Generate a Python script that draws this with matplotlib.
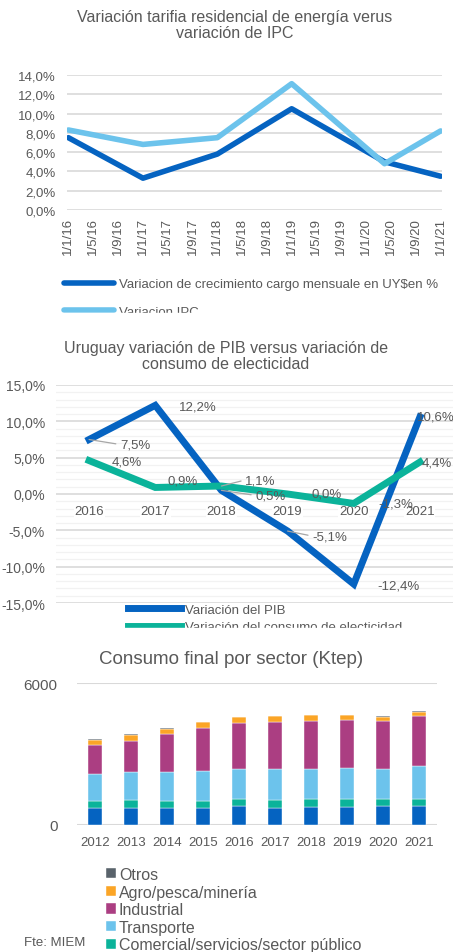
import datetime as dt
import numpy as np
import matplotlib
matplotlib.use("Agg")
import matplotlib.pyplot as plt
import matplotlib.dates as mdates
from matplotlib.ticker import FuncFormatter, MultipleLocator
from matplotlib.patches import Rectangle

plt.rcParams['font.family'] = ['Liberation Sans', 'DejaVu Sans']

# ---- chart 1 data
fechas = [dt.date(2016, 1, 1), dt.date(2017, 1, 1), dt.date(2018, 1, 1),
          dt.date(2019, 1, 1), dt.date(2020, 4, 1), dt.date(2021, 1, 1)]
cargo = [7.5, 3.3, 5.8, 10.5, 5.0, 3.5]
ipc = [8.3, 6.8, 7.5, 13.1, 4.8, 8.2]

# ---- chart 2 data
anios2 = ['2016', '2017', '2018', '2019', '2020', '2021']
pib = [7.5, 12.2, 0.5, -5.1, -12.4, 10.6]
elec = [4.6, 0.9, 1.1, 0.0, -1.3, 4.4]

# ---- chart 3 data
anios3 = ['2012', '2013', '2014', '2015', '2016', '2017', '2018', '2019', '2020', '2021']
residencial = [732, 732, 732, 732, 788, 732, 774, 774, 788, 788]
comercial = [296, 324, 296, 296, 324, 310, 324, 324, 310, 324]
transporte = [1126, 1183, 1211, 1244, 1253, 1323, 1267, 1324, 1253, 1380]
industrial = [1225, 1323, 1591, 1844, 1943, 2000, 2042, 2027, 2042, 2112]
agro = [225, 254, 225, 226, 240, 225, 239, 197, 183, 183]
otros = [43, 28, 42, 15, 15, 10, 10, 10, 10, 10]

GRAY = '#595959'
GRID = '#d9d9d9'
W, H = 453, 953


def fx(px):
    return px / W


def fy(py):
    return 1 - py / H


def pct(v, pos=None):
    return f"{v:.1f}%".replace('.', ',')


fig = plt.figure(figsize=(W / 100, H / 100), dpi=100)

# ================= chart 1
ax1 = fig.add_axes([fx(67), fy(211), fx(442) - fx(67), fy(76) - fy(211)])
l1, = ax1.plot(fechas, cargo, color='#0563C1', lw=4, solid_capstyle='round',
               label='Variacion de crecimiento cargo mensuale en UY$en %')
l2, = ax1.plot(fechas, ipc, color='#6CC3EC', lw=4, solid_capstyle='round',
               label='Variacion IPC')
ax1.set_ylim(0, 14)
ax1.yaxis.set_major_locator(MultipleLocator(2))
ax1.yaxis.set_major_formatter(FuncFormatter(pct))
ax1.set_xlim(dt.date(2015, 12, 25), dt.date(2021, 1, 8))
ax1.xaxis.set_major_locator(mdates.MonthLocator(bymonth=[1, 5, 9]))
ax1.xaxis.set_major_formatter(FuncFormatter(
    lambda x, pos: (lambda d: f"{d.day}/{d.month}/{d.strftime('%y')}")(mdates.num2date(x))))
ax1.tick_params(axis='x', rotation=90, length=0, pad=5, labelsize=9.5, labelcolor=GRAY)
ax1.tick_params(axis='y', length=0, pad=8, labelsize=9.5, labelcolor=GRAY)
ax1.grid(axis='y', color=GRID, lw=1.2)
ax1.set_axisbelow(True)
for s in ax1.spines.values():
    s.set_visible(False)

fig.text(fx(235), fy(25.5), 'Variación tarifia residencial de energía verus\nvariación de IPC',
         ha='center', va='center', fontsize=11.5, color=GRAY, linespacing=1.05)
fig.legend(handles=[l1, l2], loc='upper left', bbox_to_anchor=(fx(64), fy(279)),
           frameon=False, fontsize=9.5, labelcolor=GRAY, handlelength=3.8,
           handletextpad=0.4, labelspacing=1.18, borderpad=0, borderaxespad=0)

# ================= chart 2
ax2 = fig.add_axes([fx(56), fy(604), 1 - fx(56), fy(386) - fy(604)])
x2 = np.arange(len(anios2))
p1, = ax2.plot(x2, pib, color='#0563C1', lw=5, solid_joinstyle='miter',
               label='Variación del PIB')
p2, = ax2.plot(x2, elec, color='#0BB39A', lw=5, solid_joinstyle='miter',
               label='Variación del consumo de electicidad')
ax2.set_xlim(-0.5, len(anios2) - 0.5)
ax2.set_ylim(-15, 15)
ax2.yaxis.set_major_locator(MultipleLocator(5))
ax2.yaxis.set_minor_locator(MultipleLocator(1))
ax2.yaxis.set_major_formatter(FuncFormatter(pct))
ax2.set_xticks(x2)
ax2.set_xticklabels(anios2)
ax2.spines['bottom'].set_position(('data', 0))
for s in ax2.spines.values():
    s.set_visible(False)
ax2.tick_params(axis='x', length=0, pad=8, labelsize=9.5, labelcolor=GRAY)
ax2.tick_params(axis='y', which='both', length=0, pad=8, labelsize=10, labelcolor=GRAY)
ax2.grid(axis='y', which='major', color=GRID, lw=1.2)
ax2.grid(axis='y', which='minor', color='#f2f2f2', lw=0.9)
ax2.set_axisbelow(True)
# year labels sit on top of the gridlines, as in the original
ax2.xaxis.set_zorder(0.6)
for lab in ax2.get_xticklabels():
    lab.set_bbox(dict(facecolor='white', edgecolor='none', pad=0.5))

# label offsets in pixels (dx right, dy up) and whether a leader line is drawn
pib_off = [(46, -5, True), (43, -1, False), (49, -5, True), (42, -5, True), (45, -1, False), (16, 0, False)]
elec_off = [(38, -1, False), (27, 7, False), (39, 6, True), (39, 0, False), (42, 0, False), (17, 0, False)]
for serie, offs in ((pib, pib_off), (elec, elec_off)):
    for i, (v, (dx, dy, lead)) in enumerate(zip(serie, offs)):
        kw = {}
        if lead:
            kw['arrowprops'] = dict(arrowstyle='-', color='#a6a6a6', lw=0.9,
                                    shrinkA=1, shrinkB=0, relpos=(0, 0.5))
        ax2.annotate(pct(v), (i, v), xytext=(dx * 0.72, dy * 0.72),
                     textcoords='offset points', ha='center', va='center',
                     fontsize=9.5, color=GRAY, annotation_clip=False, **kw)

fig.text(fx(226), fy(356.5), 'Uruguay variación de PIB versus variación de\nconsumo de electicidad',
         ha='center', va='center', fontsize=11.5, color=GRAY, linespacing=1.05)
fig.legend(handles=[p1, p2], loc='upper left', bbox_to_anchor=(fx(128), fy(604.5)),
           frameon=False, fontsize=9.5, labelcolor=GRAY, handlelength=4.0,
           handletextpad=0.35, labelspacing=0.4, borderpad=0, borderaxespad=0)

# clip the cut-off legends
fig.add_artist(Rectangle((0, fy(330)), 1, fy(314) - fy(330), transform=fig.transFigure,
                         color='white', zorder=20))
fig.add_artist(Rectangle((0, fy(641)), 1, fy(629) - fy(641), transform=fig.transFigure,
                         color='white', zorder=20))

# ================= chart 3
ax3 = fig.add_axes([fx(77), fy(826), fx(437) - fx(77), fy(684) - fy(826)])
x3 = np.arange(len(anios3))
series = [('Residencial', residencial, '#0563C1'),
          ('Comercial/servicios/sector público', comercial, '#0BB39A'),
          ('Transporte', transporte, '#6CC3EC'),
          ('Industrial', industrial, '#AB3E82'),
          ('Agro/pesca/minería', agro, '#FBA526'),
          ('Otros', otros, '#59636B')]
bottom = np.zeros(len(anios3))
bars = []
for name, vals, col in series:
    b = ax3.bar(x3, vals, bottom=bottom, width=0.41, color=col, label=name,
                edgecolor='white', linewidth=0.3)
    bars.append(b)
    bottom += np.array(vals)
ax3.set_xlim(-0.5, len(anios3) - 0.5)
ax3.set_ylim(0, 6000)
ax3.set_yticks([0, 6000])
ax3.set_xticks(x3)
ax3.set_xticklabels(anios3)
for s in ax3.spines.values():
    s.set_visible(False)
ax3.tick_params(axis='x', length=0, pad=8, labelsize=9.5, labelcolor=GRAY)
ax3.tick_params(axis='y', length=0, pad=14, labelsize=11, labelcolor=GRAY)
ax3.grid(axis='y', color=GRID, lw=1.5)
ax3.set_axisbelow(True)

fig.text(fx(231), fy(660), 'Consumo final por sector (Ktep)', ha='center', va='center',
         fontsize=13.5, color=GRAY)
# the Residencial entry falls below the picture edge in the original, so it is left out
fig.legend(handles=bars[:0:-1], loc='upper left', bbox_to_anchor=(fx(106), fy(868)),
           frameon=False, fontsize=11.5, labelcolor=GRAY, handlelength=0.6,
           handleheight=0.6, handletextpad=0.2, labelspacing=0.16, borderpad=0,
           borderaxespad=0)
fig.text(fx(24), fy(943), 'Fte: MIEM', ha='left', va='center', fontsize=9.5, color=GRAY)

fig.savefig('out.png', dpi=100)
plt.close(fig)
